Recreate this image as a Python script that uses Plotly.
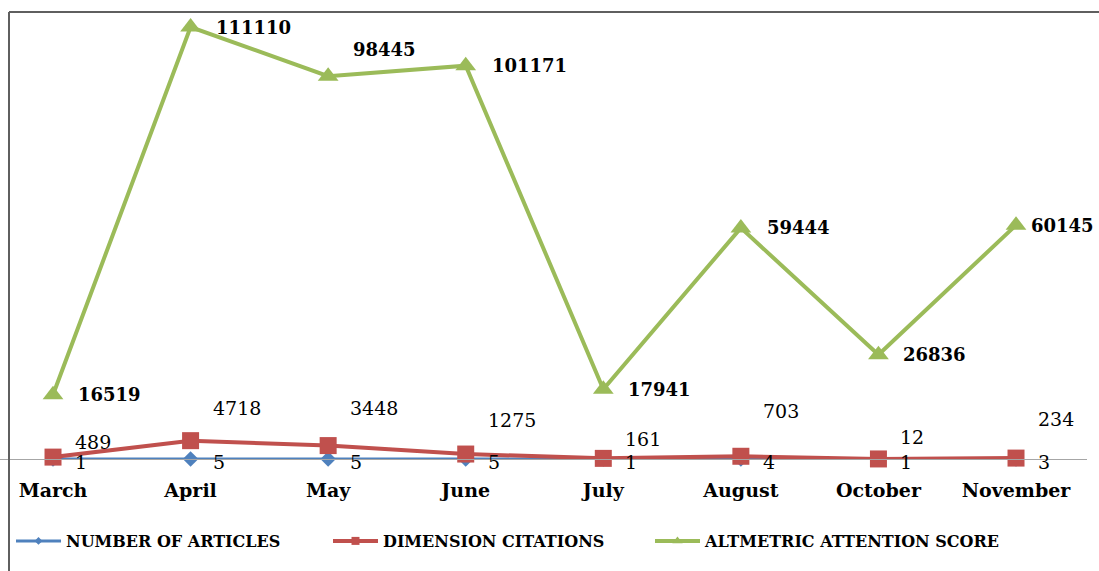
import plotly.graph_objects as go

# Monthly series
months = ["March", "April", "May", "June", "July", "August", "October", "November"]
articles = [1, 5, 5, 5, 1, 4, 1, 3]
citations = [489, 4718, 3448, 1275, 161, 703, 12, 234]
altmetric = [16519, 111110, 98445, 101171, 17941, 59444, 26836, 60145]

# Offsets (px) of the value labels, per point
citation_label_dy = [15, 33, 38, 34, 19, 45, 22, 39]
altmetric_label_dy = [0, 0, 27, 0, 0, 0, 0, 0]
altmetric_label_dx = [23, 23, 23, 24, 23, 24, 23, 13]
articles_label_dy = [-3] * 8

BLUE = "#4F81BD"
RED = "#C0504D"
GREEN = "#9BBB59"
SERIF = "DejaVu Serif"

W, H = 1099, 571
ML, MR, MT, MB = 0, 12, 0, 112
plot_w = W - ML - MR
plot_h = H - MT - MB

series = [
    ("NUMBER OF ARTICLES", articles, BLUE, 3, "diamond", 12, 6, "legend", 11),
    ("DIMENSION CITATIONS", citations, RED, 4, "square", 17, 8, "legend2", 328),
    ("ALTMETRIC ATTENTION SCORE", altmetric, GREEN, 4, "triangle-up", 18, 9, "legend3", 650),
]

fig = go.Figure()
for name, vals, color, lw, sym, msize, _, _, _ in series:
    fig.add_trace(go.Scatter(
        x=months, y=vals, name=name, mode="lines+markers", showlegend=False,
        cliponaxis=False,
        line=dict(color=color, width=lw),
        marker=dict(symbol=sym, size=msize, color=color),
    ))

# Legend entries with the small key markers
for name, vals, color, lw, sym, msize, lsize, leg, _ in series:
    fig.add_trace(go.Scatter(
        x=[None], y=[None], name=name, mode="lines+markers", legend=leg,
        line=dict(color=color, width=lw),
        marker=dict(symbol=sym, size=lsize, color=color),
    ))

annotations = []


def add_labels(values, dxs, dys, size, bold):
    for m, v, dx, dy in zip(months, values, dxs, dys):
        annotations.append(dict(
            x=m, y=v, xref="x", yref="y", text=str(v), showarrow=False,
            xanchor="left", yanchor="middle", xshift=dx, yshift=dy,
            font=dict(family=SERIF, size=size, color="#000000",
                      weight="bold" if bold else "normal"),
        ))


add_labels(articles, [20] * 8, articles_label_dy, 19, False)
add_labels(citations, [20] * 8, citation_label_dy, 19, False)
add_labels(altmetric, altmetric_label_dx, altmetric_label_dy, 18, True)

# Frame around the chart (left and top edges)
frame_color = "#5f5f5f"
x_left = 9 / plot_w
y_top = (plot_h - 12) / plot_h
shapes = [
    dict(type="line", xref="paper", yref="paper", x0=x_left, x1=x_left,
         y0=y_top, y1=-MB / plot_h, line=dict(color=frame_color, width=2)),
    dict(type="line", xref="paper", yref="paper", x0=x_left, x1=W / plot_w,
         y0=y_top, y1=y_top, line=dict(color=frame_color, width=2)),
]

legend_font = dict(family=SERIF, size=16, color="#000000", weight="bold")
legends = {}
for _, _, _, _, _, _, _, leg, px in series:
    legends[leg] = dict(
        orientation="h", x=px / plot_w, xanchor="left",
        y=(plot_h - 541) / plot_h, yanchor="middle",
        font=legend_font, itemwidth=45, bgcolor="rgba(0,0,0,0)",
    )

fig.update_layout(
    width=W, height=H,
    margin=dict(l=ML, r=MR, t=MT, b=MB),
    paper_bgcolor="white", plot_bgcolor="white",
    annotations=annotations,
    shapes=shapes,
    showlegend=True,
    **legends,
    xaxis=dict(
        range=[-0.3853, 7.516], showgrid=False, zeroline=False,
        showline=True, linecolor="#a6a6a6", linewidth=1,
        ticks="", ticklabelstandoff=14,
        tickfont=dict(family=SERIF, size=19, color="#000000", weight="bold"),
    ),
    yaxis=dict(
        range=[0, 111110 * plot_h / 432], visible=False, showgrid=False,
        zeroline=False,
    ),
)

fig.write_html("out.html")
